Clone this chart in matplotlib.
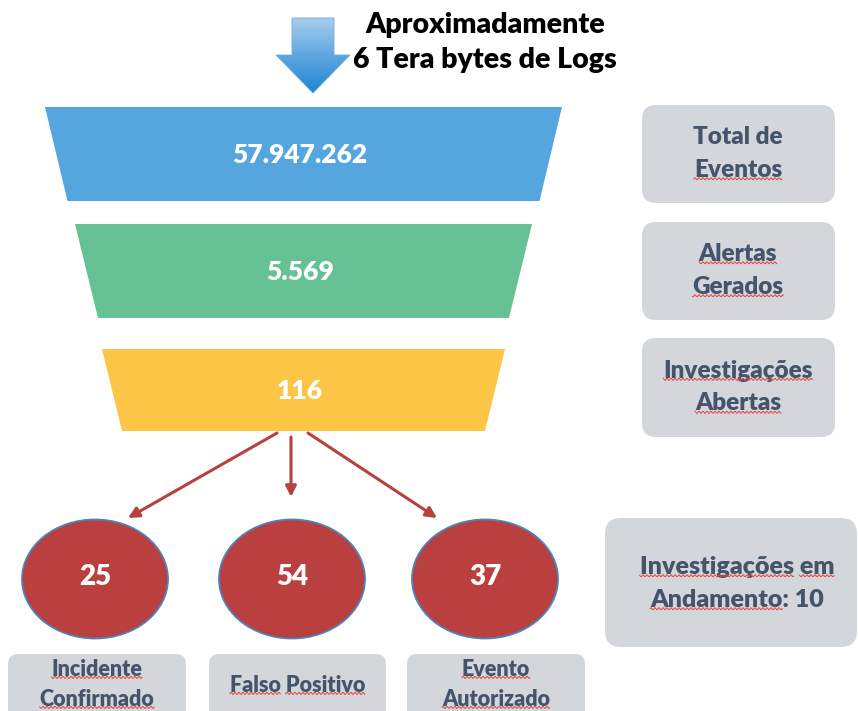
import numpy as np
import matplotlib.pyplot as plt
from matplotlib.patches import Polygon, Ellipse, FancyBboxPatch
from matplotlib.colors import LinearSegmentedColormap

plt.rcParams['font.family'] = ['Lato', 'DejaVu Sans']

# data
source_label = ['Aproximadamente', '6 Tera bytes de Logs']
funnel_values = ['57.947.262', '5.569', '116']
funnel_labels = [['Total de', 'Eventos'], ['Alertas', 'Gerados'], ['Investigações', 'Abertas']]
funnel_colors = ['#55A5DF', '#66C294', '#FCC546']
outcome_values = ['25', '54', '37']
outcome_labels = [['Incidente', 'Confirmado'], ['Falso Positivo'], ['Evento', 'Autorizado']]
in_progress_label = ['Investigações em', 'Andamento: 10']
# words flagged by the spell checker (red wavy underline)
flagged = {'Eventos', 'Alertas', 'Gerados', 'Investigações', 'Abertas', 'em', 'Andamento',
           'Incidente', 'Confirmado', 'Falso', 'Positivo', 'Evento', 'Autorizado'}

TEXT_DARK = '#44546A'
BOX_GREY = '#D3D6DA'
WEIGHT = 'heavy'

fig = plt.figure(figsize=(8.58, 7.11), dpi=100)
ax = fig.add_axes([0, 0, 1, 1])
renderer = fig.canvas.get_renderer()


def width_of(s, size):
    t = ax.text(0, 0, s, fontsize=size, fontweight=WEIGHT)
    bb = t.get_window_extent(renderer)
    t.remove()
    return bb.width, bb.height


def block(x, ys, lines, size, color, squiggle=True):
    for y, line in zip(ys, lines):
        ax.text(x, y, line, ha='center', va='center', fontsize=size,
                fontweight=WEIGHT, color=color, zorder=5)
        if not squiggle:
            continue
        full_w, h = width_of(line, size)
        left = x - full_w / 2
        pos = 0
        for word in line.split(' '):
            start = line.index(word, pos)
            pos = start + len(word)
            key = word.rstrip(':')
            if key not in flagged:
                continue
            x0 = left + width_of(line[:start], size)[0] if start else left
            x1 = left + width_of(line[:start] + key, size)[0]
            xs = np.arange(x0, x1, 0.5)
            yb = y + h * 0.40
            ax.plot(xs, yb + 1.0 * np.sin(2 * np.pi * xs / 4.0), color='#E8453C',
                    lw=0.7, zorder=6)


# blue gradient arrow at the top
arrow_xy = [(292, 18), (334, 18), (334, 55), (350, 55), (313, 93), (276, 55), (292, 55)]
arrow = Polygon(arrow_xy, closed=True, facecolor='none', edgecolor='#6FA9DC', lw=0.6, zorder=3)
ax.add_patch(arrow)
grad = LinearSegmentedColormap.from_list('g', ['#A8CEEE', '#5FA6E0', '#1C86D3'])
im = ax.imshow(np.linspace(0, 1, 256).reshape(-1, 1), extent=(276, 350, 93, 18),
               cmap=grad, aspect='auto', origin='upper', zorder=2)
im.set_clip_path(arrow)
block(485, [25, 60], source_label, 20.5, 'black', squiggle=False)

# funnel
funnel_geom = [(107, 201, 258.5, 236), (224, 318, 228.5, 205.5), (349, 431, 201.5, 181.5)]
cx = 303.5
for (y0, y1, wt, wb), col, val in zip(funnel_geom, funnel_colors, funnel_values):
    ax.add_patch(Polygon([(cx - wt, y0), (cx + wt, y0), (cx + wb, y1), (cx - wb, y1)],
                         closed=True, facecolor=col, edgecolor='none', zorder=2))
    ax.text(300, (y0 + y1) / 2 + 1, val, ha='center', va='center', fontsize=19,
            fontweight=WEIGHT, color='white', zorder=5)

# right-hand label boxes
right_boxes = [(105, 203), (222, 320), (338, 437)]
for (y0, y1), lines in zip(right_boxes, funnel_labels):
    ax.add_patch(FancyBboxPatch((642, y0), 193, y1 - y0,
                                boxstyle='round,pad=0,rounding_size=14',
                                facecolor=BOX_GREY, edgecolor='none', zorder=2))
    ym = (y0 + y1) / 2
    block(738, [ym - 17, ym + 16], lines, 17.5, TEXT_DARK)

ax.add_patch(FancyBboxPatch((605, 518), 252, 129, boxstyle='round,pad=0,rounding_size=16',
                            facecolor=BOX_GREY, edgecolor='none', zorder=2))
block(737, [567, 600], in_progress_label, 18, TEXT_DARK)

# arrows from the funnel to the outcomes
arrow_paths = [((277, 433), (128, 518)), ((291, 437), (291, 497)), ((308, 433), (437, 518))]
for start, end in arrow_paths:
    ax.annotate('', xy=end, xytext=start,
                arrowprops=dict(arrowstyle='-|>', color='#B7413F', lw=2.2,
                                mutation_scale=16, shrinkA=0, shrinkB=0), zorder=3)

# outcome circles and labels
centers = [95, 292, 485]
box_x = [(8, 186), (209, 386), (407, 585)]
for c, val, lines, (bx0, bx1) in zip(centers, outcome_values, outcome_labels, box_x):
    ax.add_patch(Ellipse((c, 579), 146, 119, facecolor='#B9403E', edgecolor='#4F81BD',
                         lw=1.3, zorder=3))
    ax.text(c, 577, val, ha='center', va='center', fontsize=20, fontweight=WEIGHT,
            color='white', zorder=5)
    ax.add_patch(FancyBboxPatch((bx0, 654), bx1 - bx0, 80, boxstyle='round,pad=0,rounding_size=10',
                                facecolor=BOX_GREY, edgecolor='none', zorder=2))
    mid = (bx0 + bx1) / 2
    if len(lines) == 2:
        block(mid, [669, 699], lines, 15.5, TEXT_DARK)
    else:
        block(mid, [685], lines, 15.5, TEXT_DARK)

ax.set_xlim(0, 858)
ax.set_ylim(711, 0)
ax.axis('off')

fig.savefig('out.png', dpi=100)
